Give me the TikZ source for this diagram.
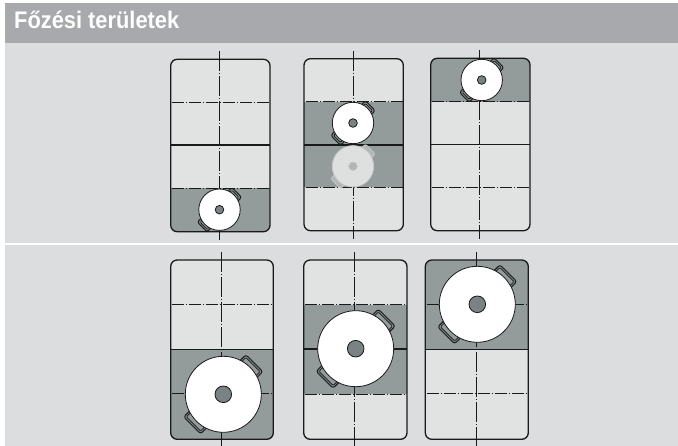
\documentclass[tikz,border=0pt]{standalone}
\usepackage{fontspec}
\setmainfont{Liberation Sans}
\definecolor{headgray}{HTML}{A7A9AC}
\definecolor{panelgray}{HTML}{DCDDDE}
\definecolor{celllight}{HTML}{E1E3E2}
\definecolor{banddark}{HTML}{939B9B}
\definecolor{hubgray}{HTML}{7A8284}
\definecolor{linedark}{HTML}{1A1A1A}
\definecolor{ghostfill}{HTML}{DDE0DE}
\definecolor{ghostedge}{HTML}{C4C8C8}
\definecolor{ghosthub}{HTML}{B0B5B5}
\tikzset{
  boardline/.style={draw=linedark,line width=1.3pt},
  axisv/.style={draw=linedark,line width=1pt,dash pattern=on 20pt off 2pt on 1pt off 2pt},
  axish/.style={draw=linedark,line width=1pt,dash pattern=on 12pt off 2pt on 1pt off 2pt},
  potline/.style={draw=linedark,line width=0.8pt},
  handleout/.style={draw=linedark,fill=hubgray,line width=0.9pt},
  handlein/.style={draw=linedark,fill=banddark,line width=0.7pt},
  ghostout/.style={draw=ghostedge,fill=banddark!60!ghostfill,line width=0.8pt},
}
% board: x0,x1,y0,y1,mid,d1,d2,axis x
\newcommand{\boardbase}[8]{%
  \fill[celllight,rounded corners=6.5pt] (#1,#3) rectangle (#2,#4);
}
\newcommand{\boardband}[8]{%
  \begin{scope}
    \clip[rounded corners=6.5pt] (#1,#3) rectangle (#2,#4);
    \fill[banddark] (#1,#5) rectangle (#2,#6);
  \end{scope}
}
\newcommand{\boardlines}[8]{%
  \draw[axisv] (#8,#3-8) -- (#8,#4+8);
  \draw[axish] (#1+1.5,#6) -- (#2,#6);
  \draw[axish] (#1+1.5,#7) -- (#2,#7);
  \draw[boardline] (#1,#5) -- (#2,#5);
  \draw[boardline,rounded corners=6.5pt] (#1,#3) rectangle (#2,#4);
}
% pot: cx, cy, r, hub r, handle half width, handle reach
\newcommand{\potshape}[6]{%
  \begin{scope}[shift={(#1,#2)},rotate=-45]
    \foreach \s in {1,-1}{
      \draw[handleout,rounded corners=2.5pt] (-#5,\s*#3*0.86) rectangle (#5,\s*#6);
      \draw[handlein,rounded corners=1.2pt] (-#5+2,\s*#3*0.86) rectangle (#5-2,\s*#6-\s*2);
    }
  \end{scope}
  \draw[potline,fill=white] (#1,#2) circle [radius=#3];
  \draw[potline,fill=hubgray] (#1,#2) circle [radius=#4];
}
\newcommand{\ghostshape}[6]{%
  \begin{scope}[shift={(#1,#2)},rotate=-45]
    \foreach \s in {1,-1}{
      \draw[ghostout,rounded corners=2pt] (-#5,\s*#3*0.86) rectangle (#5,\s*#6);
    }
  \end{scope}
  \draw[draw=ghostedge,line width=0.8pt,fill=ghostfill] (#1,#2) circle [radius=#3];
  \draw[draw=ghostedge,line width=0.8pt,fill=ghosthub] (#1,#2) circle [radius=#4];
}
\begin{document}
\begin{tikzpicture}[x=1pt,y=-1pt]
\useasboundingbox (0,0) rectangle (678,446);
\fill[white] (0,0) rectangle (678,446);
\fill[headgray] (5,3) rectangle (678,43);
\fill[panelgray] (5,43) rectangle (678,243);
\fill[panelgray] (5,245) rectangle (678,446);
\node[anchor=base west,inner sep=0pt,text=white,font=\bfseries] (title) at (14,28.5) {\scalebox{0.91}[1]{\fontsize{24}{26}\selectfont Főzési területek}};

% top row
\boardbase{170.7}{270}{59.3}{231.7}{145}{102.3}{188.3}{219.3}
\boardband{170.7}{270}{59.3}{231.7}{188.3}{231.7}{}{}
\boardlines{170.7}{270}{59.3}{231.7}{145}{102.3}{188.3}{219.3}
\potshape{219.5}{209.7}{20.7}{4.3}{7}{24.5}

\boardbase{304}{403.3}{58.7}{230.7}{145}{101.7}{187.3}{353}
\boardband{304}{403.3}{58.7}{230.7}{101.7}{187.3}{}{}
\boardlines{304}{403.3}{58.7}{230.7}{145}{101.7}{187.3}{353}
\potshape{353}{123}{20.7}{4.3}{7}{24.5}
\ghostshape{353}{166.3}{20.7}{4.3}{7}{24.5}

\boardbase{430.7}{530}{58.3}{230.7}{144.7}{101.7}{187.3}{479.3}
\boardband{430.7}{530}{58.3}{230.7}{58.3}{101.7}{}{}
\boardlines{430.7}{530}{58.3}{230.7}{144.7}{101.7}{187.3}{479.3}
\potshape{481.7}{80}{20.7}{4.3}{7}{24.5}

% bottom row
\boardbase{170.7}{273.3}{260}{439.3}{349.3}{304.3}{394}{221.3}
\boardband{170.7}{273.3}{260}{439.3}{349.3}{439.3}{}{}
\boardlines{170.7}{273.3}{260}{439.3}{349.3}{304.3}{394}{221.3}
\potshape{223.3}{394.3}{38}{8.3}{12}{44}

\boardbase{303.7}{407}{260}{439.3}{349}{305}{394.3}{354.7}
\boardband{303.7}{407}{260}{439.3}{305}{394.3}{}{}
\boardlines{303.7}{407}{260}{439.3}{349}{305}{394.3}{354.7}
\potshape{355.7}{348.7}{38}{8.3}{12}{44}

\boardbase{425.3}{528.3}{260}{439.3}{349.3}{305}{394}{476}
\boardband{425.3}{528.3}{260}{439.3}{260}{349.3}{}{}
\boardlines{425.3}{528.3}{260}{439.3}{349.3}{305}{394}{476}
\potshape{477.3}{304.3}{38}{8.3}{12}{44}
\end{tikzpicture}
\end{document}
